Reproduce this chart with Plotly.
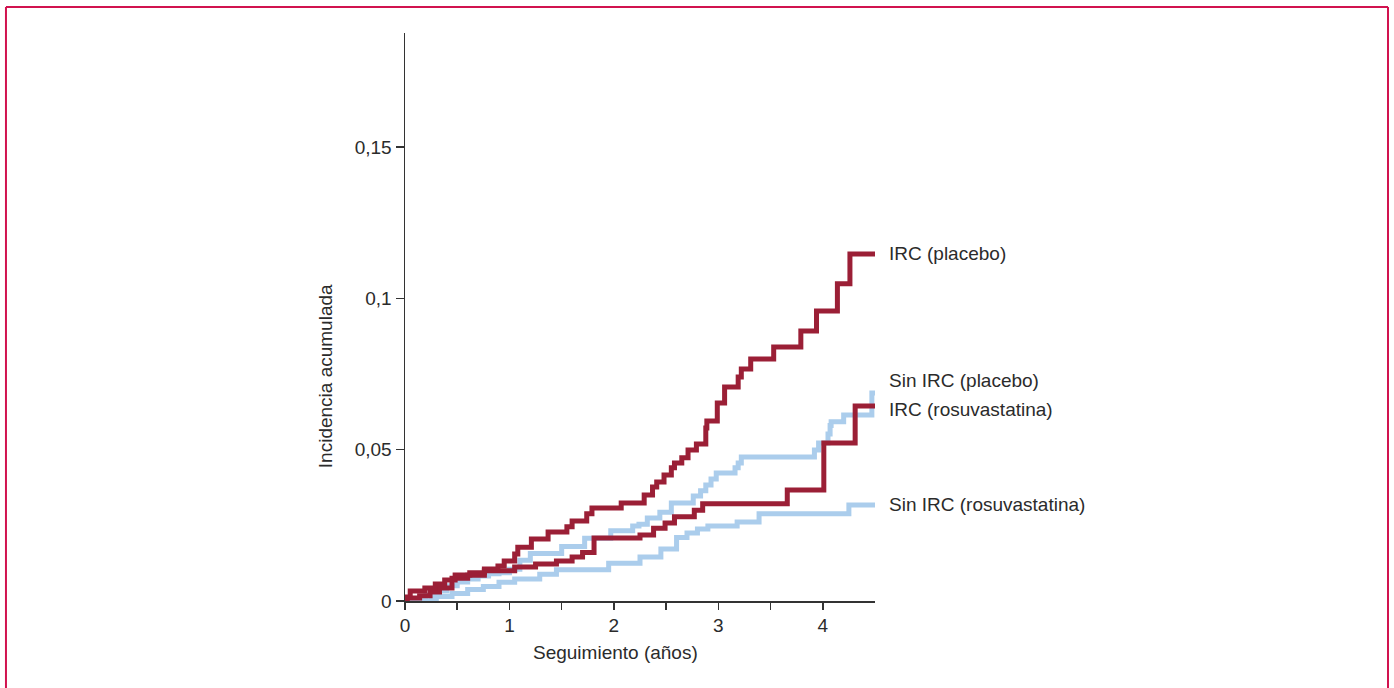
import plotly.graph_objects as go

# ---- data ----
irc_placebo_t = [0, 0.02, 0.05, 0.19, 0.29, 0.38, 0.48, 0.62, 0.76, 0.89, 0.95, 1.05, 1.08, 1.21, 1.37, 1.55, 1.60, 1.74, 1.79, 2.07,
                 2.29, 2.37, 2.41, 2.48, 2.55, 2.58, 2.65, 2.71, 2.79, 2.88, 2.89, 2.99, 3.06, 3.19, 3.22, 3.31, 3.53, 3.79, 3.94, 4.14,
                 4.26, 4.5]
irc_placebo_v = [0, 0.0013, 0.0033, 0.0043, 0.0056, 0.0069, 0.0086, 0.0093, 0.0106, 0.0116, 0.0132, 0.0155, 0.0178, 0.0205, 0.0228,
                 0.0245, 0.0264, 0.0288, 0.0307, 0.0324, 0.035, 0.0377, 0.0393, 0.0416, 0.044, 0.0456, 0.0473, 0.0499, 0.0519,
                 0.0572, 0.0595, 0.0654, 0.0707, 0.074, 0.0767, 0.08, 0.0839, 0.0892, 0.0958, 0.1048, 0.1147, 0.1147]

irc_rosu_t = [0, 0.02, 0.14, 0.24, 0.33, 0.45, 0.6, 0.76, 1.05, 1.25, 1.45, 1.6, 1.7, 1.81, 2.25, 2.38, 2.49, 2.58, 2.77, 2.85,
              3.66, 4.01, 4.31, 4.5]
irc_rosu_v = [0, 0.001, 0.0017, 0.003, 0.0043, 0.0075, 0.0085, 0.01, 0.0112, 0.0122, 0.0132, 0.0145, 0.016, 0.0208, 0.0218,
              0.024, 0.0258, 0.0278, 0.03, 0.0321, 0.0367, 0.0522, 0.0644, 0.0644]

sin_placebo_t = [0, 0.1, 0.2, 0.3, 0.4, 0.5, 0.6, 0.7, 0.8, 0.9, 1.0, 1.1, 1.2, 1.5, 1.72, 1.97, 2.18, 2.24, 2.32, 2.44,
                 2.55, 2.76, 2.83, 2.88, 2.93, 2.98, 3.16, 3.19, 3.22, 3.92, 3.96, 4.05, 4.07, 4.08, 4.2, 4.47, 4.5]
sin_placebo_v = [0, 0.0007, 0.002, 0.0033, 0.005, 0.0063, 0.0073, 0.0083, 0.009, 0.0093, 0.0105, 0.0135, 0.0157, 0.018,
                 0.0207, 0.0232, 0.0248, 0.0254, 0.0274, 0.0293, 0.0324, 0.0347, 0.0364, 0.0383, 0.0403, 0.0423, 0.044,
                 0.0456, 0.0476, 0.0499, 0.0522, 0.0552, 0.058, 0.0592, 0.0615, 0.0687, 0.0687]

sin_rosu_t = [0, 0.25, 0.3, 0.45, 0.6, 0.75, 0.9, 1.05, 1.29, 1.45, 1.95, 2.25, 2.45, 2.6, 2.7, 2.8, 2.9, 3.18, 3.39, 4.25, 4.5]
sin_rosu_v = [0, 0.0007, 0.0015, 0.0025, 0.0038, 0.0048, 0.0062, 0.0073, 0.0088, 0.0103, 0.0125, 0.0145, 0.0172, 0.021,
              0.0225, 0.0238, 0.0248, 0.0261, 0.0288, 0.0317, 0.0317]

series_labels = ["IRC (placebo)", "Sin IRC (placebo)", "IRC (rosuvastatina)", "Sin IRC (rosuvastatina)"]
label_y = [0.1147, 0.073, 0.0634, 0.032]

x_tickvals = [0, 0.5, 1, 1.5, 2, 2.5, 3, 3.5, 4]
x_ticktext = ["0", "", "1", "", "2", "", "3", "", "4"]
y_tickvals = [0, 0.05, 0.1, 0.15]
y_ticktext = ["0", "0,05", "0,1", "0,15"]

RED = "#9b1f36"
BLUE = "#abcdec"
TXT = "#2b2b2b"
FONT = "Liberation Sans, Arial, sans-serif"
FS = 19

fig = go.Figure()
for t, v in [(sin_placebo_t, sin_placebo_v), (sin_rosu_t, sin_rosu_v)]:
    fig.add_trace(go.Scatter(x=t, y=v, mode="lines", line=dict(color=BLUE, width=5, shape="hv"), hoverinfo="skip"))
for t, v in [(irc_rosu_t, irc_rosu_v), (irc_placebo_t, irc_placebo_v)]:
    fig.add_trace(go.Scatter(x=t, y=v, mode="lines", line=dict(color=RED, width=5, shape="hv"), hoverinfo="skip"))

for lab, yv in zip(series_labels, label_y):
    fig.add_annotation(x=4.5, y=yv, xref="x", yref="y", text=lab, showarrow=False,
                       xanchor="left", yanchor="middle", xshift=12, font=dict(family=FONT, size=FS, color=TXT))

# axis titles
fig.add_annotation(x=-0.170, y=0.396, xref="paper", yref="paper", text="Incidencia acumulada", textangle=-90,
                   showarrow=False, xanchor="center", yanchor="middle", font=dict(family=FONT, size=FS, color=TXT))
fig.add_annotation(x=0.447, y=-0.090, xref="paper", yref="paper", text="Seguimiento (años)",
                   showarrow=False, xanchor="center", yanchor="middle", font=dict(family=FONT, size=FS, color=TXT))

# outer frame (left, top, right)
BC = "#d1134f"
fig.add_shape(type="line", xref="paper", yref="paper", x0=-0.849, x1=-0.849, y0=-0.2, y1=1.0458, line=dict(color=BC, width=2))
fig.add_shape(type="line", xref="paper", yref="paper", x0=-0.849, x1=2.0915, y0=1.0458, y1=1.0458, line=dict(color=BC, width=2))
fig.add_shape(type="line", xref="paper", yref="paper", x0=2.0915, x1=2.0915, y0=-0.2, y1=1.0458, line=dict(color=BC, width=2))

fig.update_xaxes(range=[0, 4.5], tickvals=x_tickvals, ticktext=x_ticktext, ticks="outside", ticklen=7, tickwidth=1.5,
                 tickcolor="#333", showline=True, linecolor="#333", linewidth=1.5, showgrid=False, zeroline=False,
                 tickfont=dict(family=FONT, size=FS, color=TXT))
fig.update_yaxes(range=[0, 0.1877], tickvals=y_tickvals, ticktext=y_ticktext, ticks="outside", ticklen=8, tickwidth=1.5,
                 tickcolor="#333", showline=True, linecolor="#333", linewidth=1.5, showgrid=False, zeroline=False,
                 tickfont=dict(family=FONT, size=FS, color=TXT))

fig.update_layout(width=1394, height=688, showlegend=False, plot_bgcolor="white", paper_bgcolor="white",
                  margin=dict(l=405, r=519, t=33, b=87, autoexpand=False))

fig.write_html("out.html", config={"displayModeBar": False, "staticPlot": True},
               post_script="document.body.style.margin='0';document.body.style.overflow='hidden';")
